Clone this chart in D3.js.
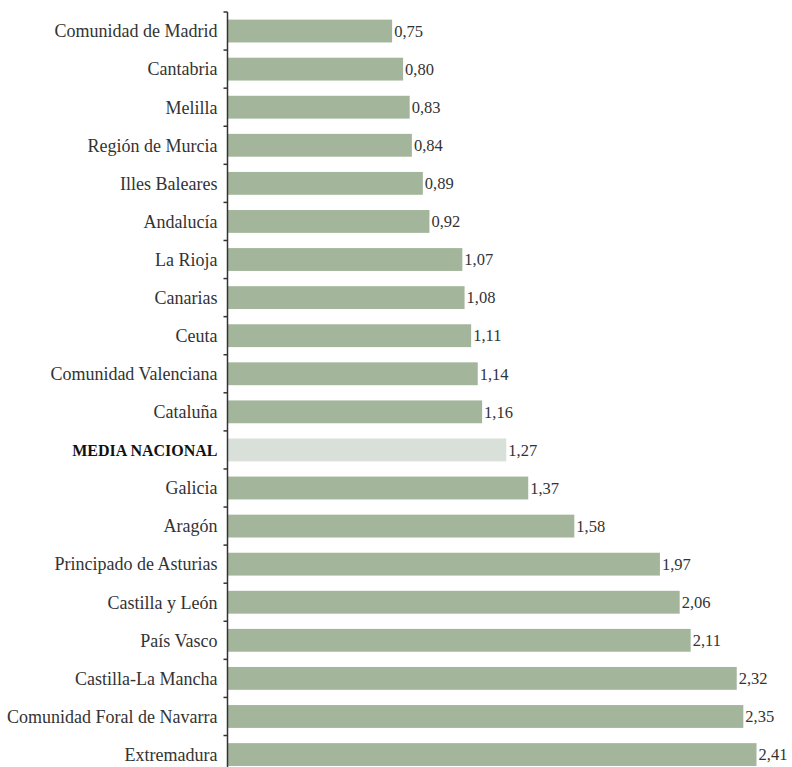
<!DOCTYPE html>
<html>
<head>
<meta charset="utf-8">
<script src="https://cdn.jsdelivr.net/npm/d3@7"></script>
<style>
  html, body { margin: 0; padding: 0; background: #fff; }
  svg { display: block; }
</style>
</head>
<body>
<svg id="chart" width="792" height="767"></svg>
<script>
// Regions, ordered from lowest to highest value
const regions = [
  "Comunidad de Madrid", "Cantabria", "Melilla", "Región de Murcia", "Illes Baleares",
  "Andalucía", "La Rioja", "Canarias", "Ceuta", "Comunidad Valenciana", "Cataluña",
  "MEDIA NACIONAL", "Galicia", "Aragón", "Principado de Asturias", "Castilla y León",
  "País Vasco", "Castilla-La Mancha", "Comunidad Foral de Navarra", "Extremadura"
];
const values = [
  0.75, 0.80, 0.83, 0.84, 0.89, 0.92, 1.07, 1.08, 1.11, 1.14, 1.16,
  1.27, 1.37, 1.58, 1.97, 2.06, 2.11, 2.32, 2.35, 2.41
];
const highlight = "MEDIA NACIONAL";

const data = regions.map((r, i) => ({ region: r, value: values[i] }));

const svg = d3.select("#chart");
const axisX = 227.5;
const plotTop = 12;
const fontFamily = "'Liberation Serif', 'Times New Roman', serif";

const x = d3.scaleLinear().domain([0, 2.41]).range([axisX, 756.5]);
const y = d3.scaleBand().domain(regions).range([plotTop, plotTop + 20 * 38.08]).paddingInner(0.4).paddingOuter(0.2);

const fmt = v => v.toFixed(2).replace(".", ",");

// Bars
svg.append("g").selectAll("rect").data(data).join("rect")
  .attr("x", x(0) + 0.5)
  .attr("y", d => y(d.region))
  .attr("width", d => x(d.value) - x(0) - 0.5)
  .attr("height", y.bandwidth())
  .attr("fill", d => d.region === highlight ? "#d9e0d9" : "#a3b69b");

// Value labels
svg.append("g").selectAll("text").data(data).join("text")
  .attr("x", d => x(d.value) + 2)
  .attr("y", d => y(d.region) + y.bandwidth() / 2)
  .attr("dy", "0.35em")
  .attr("font-family", fontFamily)
  .attr("font-size", 16.5)
  .attr("fill", "#333")
  .text(d => fmt(d.value));

// Category axis: vertical line with short ticks at row boundaries
const step = y.step();
const axisG = svg.append("g");
axisG.append("line")
  .attr("x1", axisX).attr("x2", axisX)
  .attr("y1", plotTop).attr("y2", plotTop + regions.length * step)
  .attr("stroke", "#333").attr("stroke-width", 1.5);
axisG.selectAll("line.tick").data(d3.range(regions.length + 1)).join("line")
  .attr("class", "tick")
  .attr("x1", axisX - 4).attr("x2", axisX)
  .attr("y1", i => plotTop + i * step).attr("y2", i => plotTop + i * step)
  .attr("stroke", "#333").attr("stroke-width", 1.5);

// Category labels
svg.append("g").selectAll("text").data(data).join("text")
  .attr("x", axisX - 10)
  .attr("y", d => y(d.region) + y.bandwidth() / 2)
  .attr("dy", "0.35em")
  .attr("text-anchor", "end")
  .attr("font-family", fontFamily)
  .attr("font-size", d => d.region === highlight ? 16 : 18)
  .attr("font-weight", d => d.region === highlight ? "bold" : "normal")
  .attr("fill", d => d.region === highlight ? "#111" : "#333")
  .text(d => d.region);
</script>
</body>
</html>
